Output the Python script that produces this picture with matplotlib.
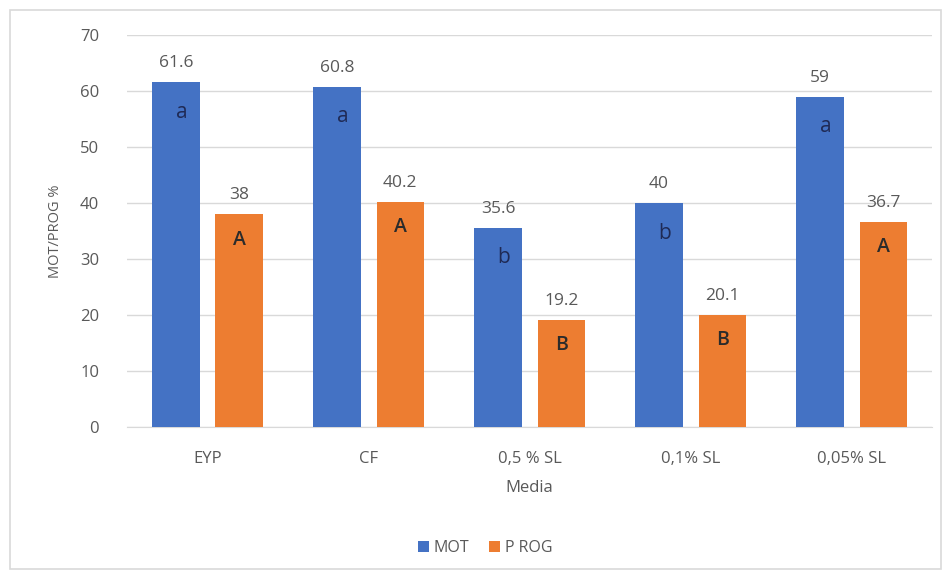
import numpy as np
import matplotlib
matplotlib.use('Agg')
import matplotlib.pyplot as plt
from matplotlib.patches import Rectangle

# Données
media = ["EYP", "CF", "0,5 % SL", "0,1% SL", "0,05% SL"]
mot = [61.6, 60.8, 35.6, 40, 59]
prog = [38, 40.2, 19.2, 20.1, 36.7]
mot_letters = ["a", "a", "b", "b", "a"]
prog_letters = ["A", "A", "B", "B", "A"]

BLUE = "#4472C4"
ORANGE = "#ED7D31"
GRAY = "#595959"

plt.rcParams['font.family'] = ['Open Sans', 'DejaVu Sans']

fig = plt.figure(figsize=(9.51, 5.76), dpi=100)
ax = fig.add_axes([0.1335, 0.258, 0.847, 0.681])

# cadre autour du graphique
fig.patches.append(Rectangle((0.010, 0.012), 0.980, 0.970, transform=fig.transFigure,
                             fill=False, edgecolor="#D9D9D9", linewidth=1.2))

x = np.arange(len(media))
w = 0.295
off = 0.197

b1 = ax.bar(x - off, mot, w, color=BLUE, label="MOT", zorder=3)
b2 = ax.bar(x + off, prog, w, color=ORANGE, label="P ROG", zorder=3)

for rect, v, let in zip(b1, mot, mot_letters):
    cx = rect.get_x() + rect.get_width() / 2
    ax.annotate(f"{v:g}", (cx, v), xytext=(0, 8), textcoords="offset points",
                ha="center", va="bottom", fontsize=12.5, color=GRAY)
    ax.annotate(let, (cx, v), xytext=(4, -14), textcoords="offset points",
                ha="center", va="top", fontsize=15, color="#1F2A55")

for rect, v, let in zip(b2, prog, prog_letters):
    cx = rect.get_x() + rect.get_width() / 2
    ax.annotate(f"{v:g}", (cx, v), xytext=(0, 8), textcoords="offset points",
                ha="center", va="bottom", fontsize=12.5, color=GRAY)
    ax.annotate(let, (cx, v), xytext=(0, -11), textcoords="offset points",
                ha="center", va="top", fontsize=14, color="#2B2B2B",
                fontweight="semibold")

ax.set_xlim(-0.5, 4.5)
ax.set_ylim(0, 70)
ax.set_yticks(range(0, 71, 10))
ax.set_xticks(x)
ax.set_xticklabels(media)
ax.tick_params(axis="both", length=0, colors=GRAY, labelsize=12)
ax.tick_params(axis="x", pad=17)
ax.tick_params(axis="y", pad=20)
ax.yaxis.grid(True, color="#D9D9D9", linewidth=1, zorder=0)
for s in ["top", "right", "left"]:
    ax.spines[s].set_visible(False)
ax.spines["bottom"].set_color("#D9D9D9")

ax.set_xlabel("Media", fontsize=12, color=GRAY, labelpad=9)
ax.set_ylabel("MOT/PROG %", fontsize=10.5, color=GRAY, labelpad=12)

fig.legend(handles=[b1, b2], labels=["MOT", "P ROG"], loc="center",
           bbox_to_anchor=(0.51, 0.049), ncol=2, frameon=False, fontsize=11.5,
           handlelength=0.7, handleheight=0.7, handletextpad=0.3, columnspacing=1.2,
           labelcolor=GRAY)

plt.savefig("out.png", dpi=100)
plt.close()
